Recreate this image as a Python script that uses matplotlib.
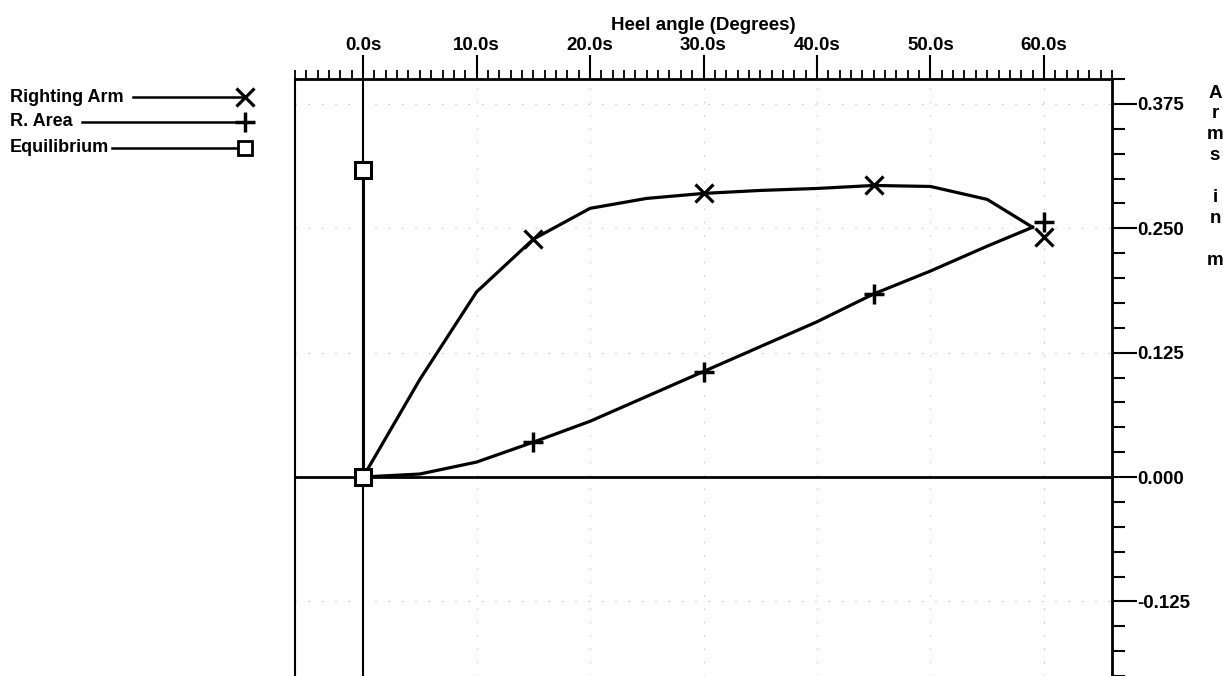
import numpy as np
import matplotlib
matplotlib.use("Agg")
import matplotlib.pyplot as plt
from matplotlib.lines import Line2D
from matplotlib.ticker import FixedLocator, FixedFormatter, MultipleLocator

plt.rcParams['font.family'] = ['Liberation Sans', 'DejaVu Sans']
plt.rcParams['font.weight'] = 'bold'

# Righting arm curve (heel angle in degrees, arm in m)
ra_x = [0, 5, 10, 15, 20, 25, 30, 35, 40, 45, 50, 55, 59]
ra_y = [0.0, 0.098, 0.186, 0.239, 0.270, 0.280, 0.285, 0.288, 0.290, 0.293, 0.292, 0.279, 0.251]
ra_mark_x = [15, 30, 45, 60]
ra_mark_y = [0.239, 0.285, 0.293, 0.241]

# Righting area curve
area_x = [0, 5, 10, 15, 20, 25, 30, 35, 40, 45, 50, 55, 59]
area_y = [0.0, 0.003, 0.015, 0.035, 0.056, 0.081, 0.106, 0.131, 0.156, 0.184, 0.207, 0.232, 0.251]
area_mark_x = [15, 30, 45, 60]
area_mark_y = [0.035, 0.106, 0.184, 0.256]

# Equilibrium
eq_x = [0, 0]
eq_y = [0.0, 0.309]

x_ticks = [0, 10, 20, 30, 40, 50, 60]
x_labels = ['0.0s', '10.0s', '20.0s', '30.0s', '40.0s', '50.0s', '60.0s']
y_ticks = [-0.125, 0.0, 0.125, 0.250, 0.375]
y_labels = ['-0.125', '0.000', '0.125', '0.250', '0.375']

W, H = 1223, 676
fig = plt.figure(figsize=(W / 100, H / 100), dpi=100)
ax = fig.add_axes([295 / W, 0, (1112 - 295) / W, (H - 79) / H])

ax.set_xlim(-6, 66)
ax.set_ylim(-0.2, 0.4)

# faint dotted grid
ax.grid(True, which='major', color='0.72', lw=0.8, linestyle=(0, (1, 11)))
ax.axhline(0, color='k', lw=2, zorder=3)
ax.axvline(0, color='k', lw=1.5, zorder=3)

ax.plot(ra_x, ra_y, color='k', lw=2.3, zorder=4)
ax.plot(ra_mark_x, ra_mark_y, linestyle='none', marker='x', color='k', ms=13, mew=2.3, zorder=5)
ax.plot(area_x, area_y, color='k', lw=2.3, zorder=4)
ax.plot(area_mark_x, area_mark_y, linestyle='none', marker='+', color='k', ms=14, mew=2.5, zorder=5)
ax.plot(eq_x, eq_y, color='k', lw=2.2, marker='s', mfc='white', mec='k', ms=11, mew=2.2, zorder=6)

# axes styling
ax.spines['bottom'].set_visible(False)
ax.spines['left'].set_linewidth(1.5)
ax.spines['top'].set_linewidth(2)
ax.spines['right'].set_linewidth(2)

ax.xaxis.tick_top()
ax.xaxis.set_label_position('top')
ax.yaxis.tick_right()
ax.xaxis.set_major_locator(FixedLocator(x_ticks))
ax.xaxis.set_major_formatter(FixedFormatter(x_labels))
ax.xaxis.set_minor_locator(MultipleLocator(1))
ax.yaxis.set_major_locator(FixedLocator(y_ticks))
ax.yaxis.set_major_formatter(FixedFormatter(y_labels))
ax.yaxis.set_minor_locator(MultipleLocator(0.025))

ax.tick_params(axis='x', which='major', direction='out', length=17, width=1.5, pad=1, labelsize=13.5)
ax.tick_params(axis='x', which='minor', direction='out', length=6.5, width=1.3)
ax.tick_params(axis='y', which='major', direction='out', length=18, width=1.5, pad=0, labelsize=13.5)
ax.tick_params(axis='y', which='minor', direction='out', length=9, width=1.5)

ax.set_xlabel('Heel angle (Degrees)', fontsize=13.5, fontweight='bold', labelpad=5)

# vertical y label "Arms in m"
letters = ['A', 'r', 'm', 's', '', 'i', 'n', '', 'm']
for i, ch in enumerate(letters):
    fig.text(1215 / W, 1 - (93 + i * 20.9) / H, ch, ha='center', va='center',
             fontsize=13.5, fontweight='bold')

# legend drawn at left
legend_items = [('Righting Arm', 97, 133, dict(marker='x', ms=13, mew=2.3, mfc='k')),
                ('R. Area', 122, 82, dict(marker='+', ms=14, mew=2.5, mfc='k')),
                ('Equilibrium', 148, 112, dict(marker='s', ms=10, mew=2, mfc='white'))]
for label, y, x0, mk in legend_items:
    yf = 1 - y / H
    fig.text(10 / W, yf, label, ha='left', va='center', fontsize=13, fontweight='bold')
    fig.add_artist(Line2D([x0 / W, 245 / W], [yf, yf], color='k', lw=1.8,
                          transform=fig.transFigure))
    fig.add_artist(Line2D([245 / W], [yf], color='k', mec='k', linestyle='none',
                          transform=fig.transFigure, **mk))

fig.savefig('out.png', dpi=100)
